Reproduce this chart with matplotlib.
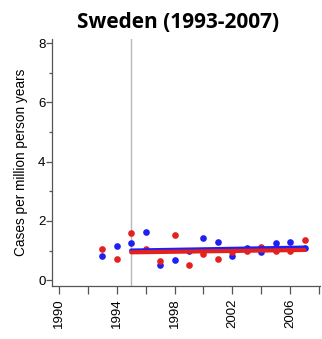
import matplotlib
matplotlib.use("Agg")
import matplotlib.pyplot as plt
from matplotlib.ticker import MultipleLocator

# Annual incidence, Sweden
years = [1993, 1994, 1995, 1996, 1997, 1998, 1999, 2000,
         2001, 2002, 2003, 2004, 2005, 2006, 2007]
red_rates = [1.04, 0.71, 1.60, 1.04, 0.65, 1.53, 0.52, 0.88,
             0.70, 0.94, 1.00, 1.11, 1.00, 1.00, 1.35]
blue_rates = [0.82, 1.15, 1.26, 1.62, 0.51, 0.68, 0.98, 1.41,
              1.29, 0.82, 1.08, 0.94, 1.27, 1.28, 1.08]

# Fitted trends after 1995
trend_years = [1995, 2007]
red_trend = [0.94, 1.02]
blue_trend = [1.00, 1.10]
cutoff_year = 1995

RED = "#e3221f"
BLUE = "#1f1ff5"
AXIS = "#555555"
SANS = ["Liberation Sans", "DejaVu Sans"]

fig = plt.figure(figsize=(3.22, 3.39), dpi=100)
ax = fig.add_axes([0.163, 0.156, 0.832, 0.73])

ax.axvline(cutoff_year, color="#b8b8b8", linewidth=1.0, zorder=1)

ax.plot(years, blue_rates, "o", color=BLUE, markersize=4.8,
        markeredgewidth=0, zorder=3)
ax.plot(years, red_rates, "o", color=RED, markersize=4.8,
        markeredgewidth=0, zorder=3)
ax.plot(trend_years, blue_trend, color=BLUE, linewidth=3, zorder=4,
        solid_capstyle="round")
ax.plot(trend_years, red_trend, color=RED, linewidth=3, zorder=4,
        solid_capstyle="round")

ax.set_xlim(1989.55, 2008.1)
ax.set_ylim(-0.2, 8.15)

ax.set_yticks([0, 2, 4, 6, 8])
ax.yaxis.set_minor_locator(MultipleLocator(1))
ax.set_xticks([1990, 1994, 1998, 2002, 2006])
ax.xaxis.set_minor_locator(MultipleLocator(2))

for side in ("top", "right"):
    ax.spines[side].set_visible(False)
for side in ("left", "bottom"):
    ax.spines[side].set_color(AXIS)
    ax.spines[side].set_linewidth(0.9)

ax.tick_params(axis="y", which="major", length=4, width=0.9,
               color=AXIS, labelsize=9.5, pad=1)
ax.tick_params(axis="y", which="minor", length=2.5, width=0.9,
               color=AXIS)
ax.tick_params(axis="x", which="both", length=6, width=0.9,
               color=AXIS, labelsize=9.5, labelrotation=90, pad=3)

for lbl in ax.get_xticklabels() + ax.get_yticklabels():
    lbl.set_family(SANS)

ax.set_ylabel("Cases per million person years", fontsize=9.8,
              family=SANS, labelpad=7)
ax.set_title("Sweden (1993-2007)", fontsize=15, fontweight="bold",
             family=["Open Sans", "DejaVu Sans"], pad=8, x=0.468)

fig.savefig("out.png", dpi=100)
